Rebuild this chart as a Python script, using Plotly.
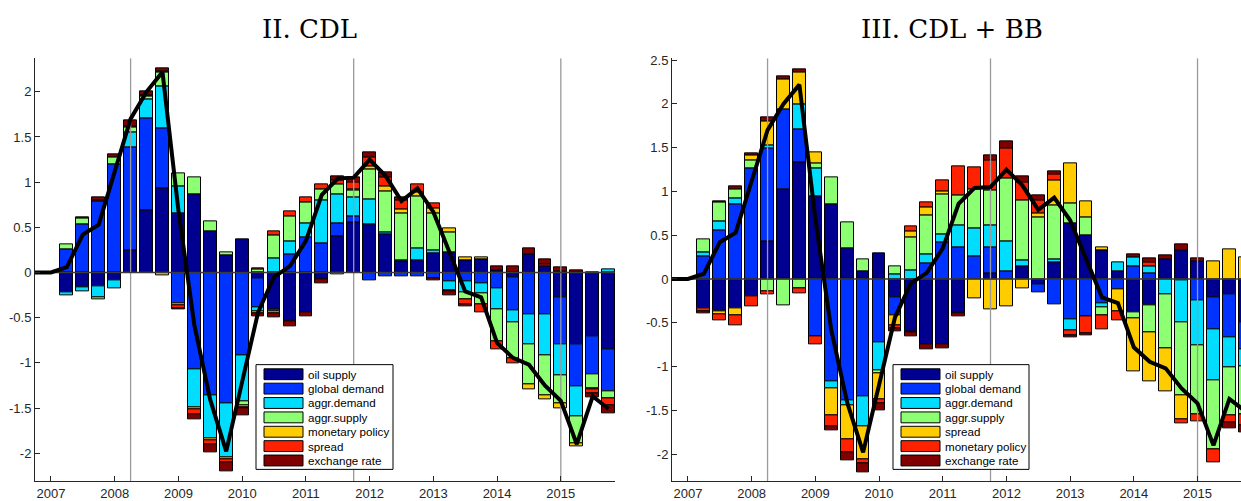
import plotly.graph_objects as go

W, H = 1241, 501

# ---------------- data ----------------
bar_dates = [2007.25, 2007.5, 2007.75, 2008.0, 2008.25, 2008.5, 2008.75, 2009.0,
             2009.25, 2009.5, 2009.75, 2010.0, 2010.25, 2010.5, 2010.75, 2011.0,
             2011.25, 2011.5, 2011.75, 2012.0, 2012.25, 2012.5, 2012.75, 2013.0,
             2013.25, 2013.5, 2013.75, 2014.0, 2014.25, 2014.5, 2014.75, 2015.0,
             2015.25, 2015.5, 2015.75]
line_dates = [2006.75, 2007.0] + bar_dates
total = [0, 0, 0.06, 0.42, 0.53, 1.12, 1.70, 2.0, 2.22, 0.69, -0.58, -1.41, -1.98,
         -1.21, -0.44, -0.05, 0.07, 0.35, 0.86, 1.04, 1.05, 1.25, 1.07, 0.79, 0.93,
         0.67, 0.24, -0.21, -0.275, -0.78, -0.945, -1.02, -1.25, -1.42, -1.9, -1.37, -1.51]
event_dates = [2008.25, 2011.75, 2015.0]
year_ticks = [2007, 2008, 2009, 2010, 2011, 2012, 2013, 2014, 2015]

# Panel II. CDL
cdl_oil = [-0.225, -0.165, -0.15, -0.085, 0.245, 0.69, 0.93, 0.655, 0.865, 0.45, 0.19, 0.37,
           -0.07, -0.405, -0.54, -0.44, -0.08, 0.40, 0.56, 0.537, 0.42, 0.12, 0.13, 0.21,
           0.226, 0.13, 0.145, 0.02, -0.055, 0.2, 0.07, -0.27, -0.795, -0.712, -0.85]
cdl_gd = [0.26, 0.53, 0.785, 1.2, 1.14, 1.02, 0.67, -0.34, -1.07, -1.355, -1.45, -0.915,
          -0.315, -0.025, 0.2, 0.39, 0.32, 0.145, 0.06, -0.085, -0.04, -0.04, -0.045, -0.06,
          -0.10, -0.10, -0.117, -0.175, -0.36, -0.46, -0.465, -0.525, -0.47, -0.412, -0.47]
cdl_ad = [-0.03, -0.045, -0.125, -0.095, 0.17, 0.21, 0.455, 0.295, -0.42, -0.48, -0.6, -0.515,
          -0.045, 0.16, 0.145, 0.155, 0.48, 0.32, 0.21, 0.275, 0.02, 0.02, 0.135, 0.04,
          -0.10, -0.12, -0.11, -0.235, -0.14, -0.33, -0.455, -0.34, -0.325, 0, 0.04]
cdl_as = [0.05, 0.07, -0.02, 0.07, 0.055, 0.03, 0.16, 0.145, 0.185, 0.115, 0.035, -0.04,
          0.03, 0.25, 0.275, 0.235, 0.12, 0.11, 0.08, 0.325, 0.46, 0.51, 0.575, 0.405,
          0.22, -0.08, -0.12, -0.35, -0.40, -0.45, -0.435, -0.31, -0.3, -0.153, -0.07]
cdl_mp = [0, 0, 0, 0, 0, 0, -0.03, -0.025, -0.025, -0.02, -0.02, -0.02,
          -0.02, -0.025, 0, 0, 0, -0.02, 0.01, 0.035, 0.05, 0.05, 0.05, 0.05,
          0.04, 0.035, 0.02, 0, 0, -0.05, -0.045, -0.055, -0.03, -0.02, 0]
cdl_sp = [0, 0, 0.01, 0, 0.01, 0.01, 0.01, -0.035, -0.055, -0.05, -0.035, -0.01,
          0.015, 0.045, 0.055, 0.05, 0.06, 0.045, 0.08, 0.1, 0.1, 0.1, 0.085, 0.055,
          -0.01, -0.05, -0.09, -0.09, -0.055, 0, 0.015, 0.015, 0, -0.035, -0.08]
cdl_er = [0, 0.015, 0.035, 0.04, 0.06, 0.05, 0.03, -0.01, -0.055, -0.08, -0.095, -0.085,
          -0.035, -0.045, -0.06, -0.045, -0.04, 0.04, 0.05, 0.055, 0.055, 0.03, 0, -0.03,
          -0.045, -0.025, 0, 0.05, 0.065, 0.067, 0.06, 0.045, 0.02, -0.045, -0.085]

# Panel III. CDL + BB
bb_oil = [-0.34, -0.365, -0.338, -0.195, 0.425, 1.026, 1.327, 0.94, 0.857, 0.35, 0.083, 0.293,
          -0.214, -0.594, -0.75, -0.75, -0.395, 0, 0.064, 0, 0.139, -0.056, 0.188, 0.64,
          0.496, 0.327, 0.083, -0.376, -0.30, 0.225, 0.33, 0.207, -0.214, -0.177, -0.5]
bb_gd = [0.26, 0.556, 0.857, 1.26, 1.07, 0.91, 0.383, -0.658, -1.165, -1.383, -1.342, -0.72,
         -0.206, -0.02, 0.177, 0.413, 0.364, 0.263, 0.293, 0.083, 0, -0.10, -0.29, -0.462,
         -0.432, -0.282, -0.124, 0.139, 0.06, 0, -0.02, -0.244, -0.36, -0.488, -0.3]
bb_ad = [0.045, 0.10, 0.063, 0, 0.034, 0, 0.28, 0.32, -0.083, -0.057, -0.338, -0.325,
         0.05, 0.094, 0.105, 0.094, 0.245, 0.312, 0.252, 0.342, 0.075, 0, 0.037, -0.12,
         0, -0.038, 0.105, 0.105, 0.09, -0.17, -0.476, -0.515, -0.58, -0.342, -0.2]
bb_as = [0.145, 0.214, 0.106, 0.093, -0.143, -0.30, -0.105, 0.056, 0.308, 0.30, 0.142, -0.035,
         0.1, 0.383, 0.45, 0.463, 0.341, 0.45, 0.406, 0.729, 0.688, 0.70, 0.62, 0.224,
         0.21, -0.1, 0, -0.075, -0.31, -0.62, -0.838, -0.79, -0.79, -0.545, -0.55]
bb_sp = [0, -0.037, -0.082, 0.064, 0.27, 0.34, 0.37, 0.13, -0.312, -0.39, -0.38, -0.29,
         -0.114, 0.068, 0.083, 0.026, 0, -0.225, -0.35, -0.312, -0.105, 0.05, 0.28, 0.462,
         0.184, 0.04, -0.24, -0.6, -0.56, -0.488, -0.274, 0, 0.2, 0.338, 0.244]
bb_mp = [-0.035, -0.075, -0.114, -0.113, -0.034, 0, -0.064, -0.094, -0.12, -0.154, -0.045, -0.047,
         -0.03, 0.056, 0.057, 0.131, 0.34, 0.25, 0.338, 0.342, 0.207, 0.15, 0.075, -0.066,
         -0.188, -0.15, -0.105, 0, 0.045, 0, -0.038, -0.08, -0.15, -0.09, -0.12]
bb_er = [-0.015, 0.022, 0.037, 0.023, 0.045, 0.037, 0.034, 0, -0.05, -0.083, -0.1, -0.083,
         -0.03, -0.045, -0.05, -0.04, -0.037, 0, 0.056, 0.075, 0.066, 0.05, 0.027, -0.02,
         -0.026, 0, 0, 0.038, 0.035, 0.049, 0.065, 0.026, 0, -0.06, -0.08]

labels_cdl = ["oil supply", "global demand", "aggr.demand", "aggr.supply",
              "monetary policy", "spread", "exchange rate"]
labels_bb = ["oil supply", "global demand", "aggr.demand", "aggr.supply",
             "spread", "monetary policy", "exchange rate"]
colors = ["#000090", "#0033FF", "#00DDFF", "#8CFF72", "#FFCC00", "#FF2200", "#800000"]

y_ticks_l = [-2, -1.5, -1, -0.5, 0, 0.5, 1, 1.5, 2]
y_ticks_r = [-2, -1.5, -1, -0.5, 0, 0.5, 1, 1.5, 2, 2.5]

# ---------------- layout geometry (pixels) ----------------
def px(x):
    return x / W

def py(y):
    return 1 - y / H

XL = (35, 615)
XR = (672, 1241)
YTOP, YBOT = 53, 481
xr_l = [2006.75, 2015.85]
xr_r = [2006.75, 2006.75 + (1241 - 672) / 63.7]
yr_l = [-2.31, 2.37]
yr_r = [-2.31, 2.52]

fig = go.Figure()

def nz(vals):
    return [v if v != 0 else None for v in vals]

panels = [
    ("x", "y", [cdl_oil, cdl_gd, cdl_ad, cdl_as, cdl_mp, cdl_sp, cdl_er], labels_cdl, xr_l, yr_l),
    ("x2", "y2", [bb_oil, bb_gd, bb_ad, bb_as, bb_sp, bb_mp, bb_er], labels_bb, xr_r, yr_r),
]

for xa, ya, series, labels, xr, yr in panels:
    for vals, lab, col in zip(series, labels, colors):
        fig.add_trace(go.Bar(
            x=bar_dates, y=nz(vals), width=0.2, name=lab,
            marker=dict(color=col, line=dict(color="#000000", width=1)),
            xaxis=xa, yaxis=ya, showlegend=False, hoverinfo="skip"))

for xa, ya, series, labels, xr, yr in panels:
    vx, vy = [], []
    for d in event_dates:
        vx += [d, d, None]
        vy += [yr[0], yr[1], None]
    fig.add_trace(go.Scatter(x=vx, y=vy, mode="lines",
                             line=dict(color="#9a9a9a", width=1.3),
                             xaxis=xa, yaxis=ya, showlegend=False, hoverinfo="skip"))
    fig.add_trace(go.Scatter(x=xr, y=[0, 0], mode="lines",
                             line=dict(color="#3a3a3a", width=1.6),
                             xaxis=xa, yaxis=ya, showlegend=False, hoverinfo="skip"))
    fig.add_trace(go.Scatter(x=line_dates, y=total, mode="lines",
                             line=dict(color="#000000", width=4),
                             xaxis=xa, yaxis=ya, showlegend=False, hoverinfo="skip"))

axis_common = dict(showgrid=False, zeroline=False, showline=True, linecolor="#262626",
                   linewidth=1, ticks="inside", ticklen=5, tickcolor="#262626",
                   tickfont=dict(family="Liberation Sans, Arial", size=13, color="#262626"))

def fmt(v):
    return "%g" % v

fig.update_layout(
    width=W, height=H, margin=dict(l=0, r=0, t=0, b=0),
    paper_bgcolor="white", plot_bgcolor="white", barmode="relative", bargap=0,
    xaxis=dict(domain=[px(XL[0]), px(XL[1])], range=xr_l, tickvals=year_ticks,
               ticktext=[str(t) for t in year_ticks], anchor="y", **axis_common),
    yaxis=dict(domain=[py(YBOT), py(YTOP)], range=yr_l, tickvals=y_ticks_l,
               ticktext=[fmt(t) for t in y_ticks_l], anchor="x", **axis_common),
    xaxis2=dict(domain=[px(XR[0]), px(XR[1])], range=xr_r, tickvals=year_ticks,
                ticktext=[str(t) for t in year_ticks], anchor="y2", **axis_common),
    yaxis2=dict(domain=[py(YBOT), py(YTOP)], range=yr_r, tickvals=y_ticks_r,
                ticktext=[fmt(t) for t in y_ticks_r], anchor="x2", **axis_common),
)

# titles
title_font = dict(family="DejaVu Serif, Liberation Serif, serif", size=26, color="#000000")
fig.add_annotation(text="II. CDL", x=px(309), y=py(23), xref="paper", yref="paper",
                   showarrow=False, font=title_font, xanchor="center", yanchor="middle")
fig.add_annotation(text="III. CDL + BB", x=px(952), y=py(23), xref="paper", yref="paper",
                   showarrow=False, font=title_font, xanchor="center", yanchor="middle")

# legends (drawn manually to match the wide swatches)
def add_legend(x0, x1, y0, y1, sw0, sw1, tx, labels):
    fig.add_shape(type="rect", xref="paper", yref="paper",
                  x0=px(x0), x1=px(x1), y0=py(y1), y1=py(y0),
                  line=dict(color="#000000", width=1), fillcolor="white", layer="above")
    for k, (lab, col) in enumerate(zip(labels, colors)):
        cy = 372.7 + 14.55 * k
        fig.add_shape(type="rect", xref="paper", yref="paper",
                      x0=px(sw0), x1=px(sw1), y0=py(cy + 5.5), y1=py(cy - 5.5),
                      line=dict(color="#000000", width=1), fillcolor=col, layer="above")
        fig.add_annotation(text=lab, x=px(tx), y=py(cy), xref="paper", yref="paper",
                           showarrow=False, xanchor="left", yanchor="middle",
                           font=dict(family="Liberation Sans, Arial", size=11.6, color="#000000"))

add_legend(256, 393, 363, 469, 264, 303, 306, labels_cdl)
add_legend(893, 1029, 363, 469, 901, 940, 943, labels_bb)

fig.write_html("out.html")
